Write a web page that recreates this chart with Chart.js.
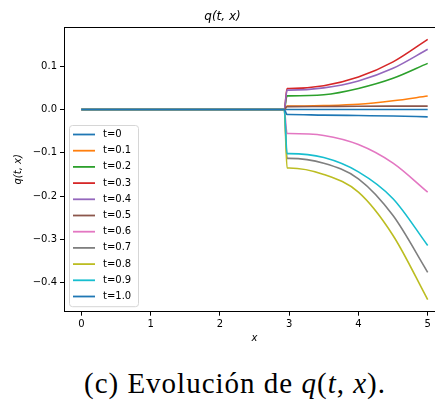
<!DOCTYPE html>
<html lang="es">
<head>
  <meta charset="UTF-8">
  <title>Evolución de q(t,x)</title>
  <script src="https://cdn.jsdelivr.net/npm/chart.js"></script>
  <style>
    html, body { margin: 0; padding: 0; background: #fff; overflow: hidden; }
    #wrap { position: absolute; left: 0; top: 0; width: 455px; height: 350px; }
    #caption {
      position: absolute; left: 60px; top: 369px; width: 350px;
      text-align: center; white-space: nowrap; letter-spacing: 1px;
      font-family: "Liberation Serif", serif; font-size: 29px; line-height: 1; color: #000;
    }
  </style>
</head>
<body>
  <div id="wrap"><canvas id="chart" width="455" height="350"></canvas></div>
  <div id="caption">(c) Evolución de <i>q</i>(<i>t</i>, <i>x</i>).</div>

  <script>
    const xs = [0, 2.93, 2.97, 3.0, 3.5, 4, 4.5, 5];

    const labels = ['t=0', 't=0.1', 't=0.2', 't=0.3', 't=0.4', 't=0.5',
                    't=0.6', 't=0.7', 't=0.8', 't=0.9', 't=1.0'];

    const q00 = [0, 0, 0, 0, 0, 0, 0, 0];
    const q01 = [0, 0, 0.0077, 0.0077, 0.009, 0.012, 0.020, 0.031];
    const q02 = [0, 0, 0.0315, 0.0315, 0.034, 0.0486, 0.072, 0.1065];
    const q03 = [0, 0, 0.0486, 0.0486, 0.055, 0.075, 0.110, 0.162];
    const q04 = [0, 0, 0.0447, 0.0447, 0.050, 0.066, 0.095, 0.139];
    const q05 = [0, 0, 0.0065, 0.0065, 0.007, 0.0075, 0.0077, 0.0078];
    const q06 = [0, 0, -0.0556, -0.0556, -0.060, -0.081, -0.124, -0.191];
    const q07 = [0, 0, -0.113, -0.113, -0.124, -0.160, -0.245, -0.376];
    const q08 = [0, 0, -0.135, -0.135, -0.150, -0.191, -0.291, -0.439];
    const q09 = [0, 0, -0.102, -0.102, -0.111, -0.144, -0.206, -0.314];
    const q10 = [0, 0, -0.0116, -0.0116, -0.013, -0.014, -0.015, -0.017];

    const series = [q00, q01, q02, q03, q04, q05, q06, q07, q08, q09, q10];

    // matplotlib tab10 cycle
    const colors = ['#1f77b4', '#ff7f0e', '#2ca02c', '#d62728', '#9467bd', '#8c564b',
                    '#e377c2', '#7f7f7f', '#bcbd22', '#17becf', '#1f77b4'];

    const yTicks = [-0.4, -0.3, -0.2, -0.1, 0.0, 0.1];
    const xTicks = [0, 1, 2, 3, 4, 5];

    const FONT = '"DejaVu Sans", sans-serif';

    function fmt(v) {
      const r = Math.round(v * 10) / 10;
      if (r === 0) return '0.0';
      return r.toFixed(1).replace('-', '\u2212');
    }

    // top/right spines
    const frame = {
      id: 'frame',
      afterDraw(chart) {
        const { ctx, chartArea: a } = chart;
        ctx.save();
        ctx.strokeStyle = '#000';
        ctx.lineWidth = 1;
        ctx.beginPath();
        ctx.moveTo(Math.round(a.left) + 0.5, Math.round(a.top) + 0.5);
        ctx.lineTo(Math.round(a.right) + 0.5, Math.round(a.top) + 0.5);
        ctx.lineTo(Math.round(a.right) + 0.5, Math.round(a.bottom) + 0.5);
        ctx.stroke();
        ctx.restore();
      }
    };

    // legend box in the lower left corner of the axes
    const innerLegend = {
      id: 'innerLegend',
      afterDraw(chart) {
        const { ctx, chartArea: a } = chart;
        const sets = chart.data.datasets;
        const rowH = 16.2;
        const w = 69, h = sets.length * rowH + 3;
        const x0 = a.left + 5, y0 = a.bottom - 5.5 - h;
        ctx.save();
        ctx.beginPath();
        ctx.roundRect(x0 + 0.5, y0 + 0.5, w, h, 3);
        ctx.fillStyle = 'rgba(255,255,255,0.8)';
        ctx.fill();
        ctx.strokeStyle = '#d6d6d6';
        ctx.lineWidth = 1;
        ctx.stroke();
        ctx.font = '10px ' + FONT;
        ctx.textBaseline = 'middle';
        sets.forEach((ds, i) => {
          const y = y0 + 9.5 + i * rowH;
          ctx.strokeStyle = ds.borderColor;
          ctx.lineWidth = 1.8;
          ctx.beginPath();
          ctx.moveTo(x0 + 4, y);
          ctx.lineTo(x0 + 26, y);
          ctx.stroke();
          ctx.fillStyle = '#000';
          ctx.fillText(ds.label, x0 + 34, y);
        });
        ctx.restore();
      }
    };

    new Chart(document.getElementById('chart'), {
      type: 'line',
      data: {
        datasets: series.map((vals, i) => ({
          label: labels[i],
          data: xs.map((x, j) => ({ x: x, y: vals[j] })),
          borderColor: colors[i],
          backgroundColor: colors[i],
          borderWidth: 1.6,
          pointRadius: 0,
          fill: false,
          cubicInterpolationMode: 'monotone',
          order: series.length - i
        }))
      },
      options: {
        responsive: false,
        animation: false,
        layout: { padding: { left: 0, right: 10, top: 0, bottom: 0 } },
        plugins: {
          legend: { display: false },
          tooltip: { enabled: false },
          title: {
            display: true,
            text: 'q(t, x)',
            color: '#000',
            font: { family: FONT, size: 12, style: 'italic', weight: 'normal' },
            padding: { top: 10, bottom: 2.6 }
          }
        },
        scales: {
          x: {
            type: 'linear',
            min: -0.25,
            max: 5.25,
            afterBuildTicks: s => { s.ticks = xTicks.map(v => ({ value: v })); },
            afterFit: s => { s.height = 38.3; },
            ticks: { callback: v => String(v), color: '#000', padding: 3,
                     font: { family: FONT, size: 10 }, maxRotation: 0 },
            grid: { drawOnChartArea: false, drawTicks: true, tickLength: 4, color: '#000' },
            border: { display: true, color: '#000', width: 1 },
            title: { display: true, text: 'x', color: '#000',
                     font: { family: FONT, size: 10, style: 'italic' },
                     padding: { top: 0, bottom: 6 } }
          },
          y: {
            min: -0.467,
            max: 0.1905,
            afterBuildTicks: s => { s.ticks = yTicks.map(v => ({ value: v })); },
            afterFit: s => { s.width = 64; },
            ticks: { callback: v => fmt(v), color: '#000', padding: 3,
                     font: { family: FONT, size: 10 } },
            grid: { drawOnChartArea: false, drawTicks: true, tickLength: 4, color: '#000' },
            border: { display: true, color: '#000', width: 1 },
            title: { display: true, text: 'q(t, x)', color: '#000',
                     font: { family: FONT, size: 10, style: 'italic' },
                     padding: { top: 12.5, bottom: 0 } }
          }
        }
      },
      plugins: [frame, innerLegend]
    });
  </script>
</body>
</html>
